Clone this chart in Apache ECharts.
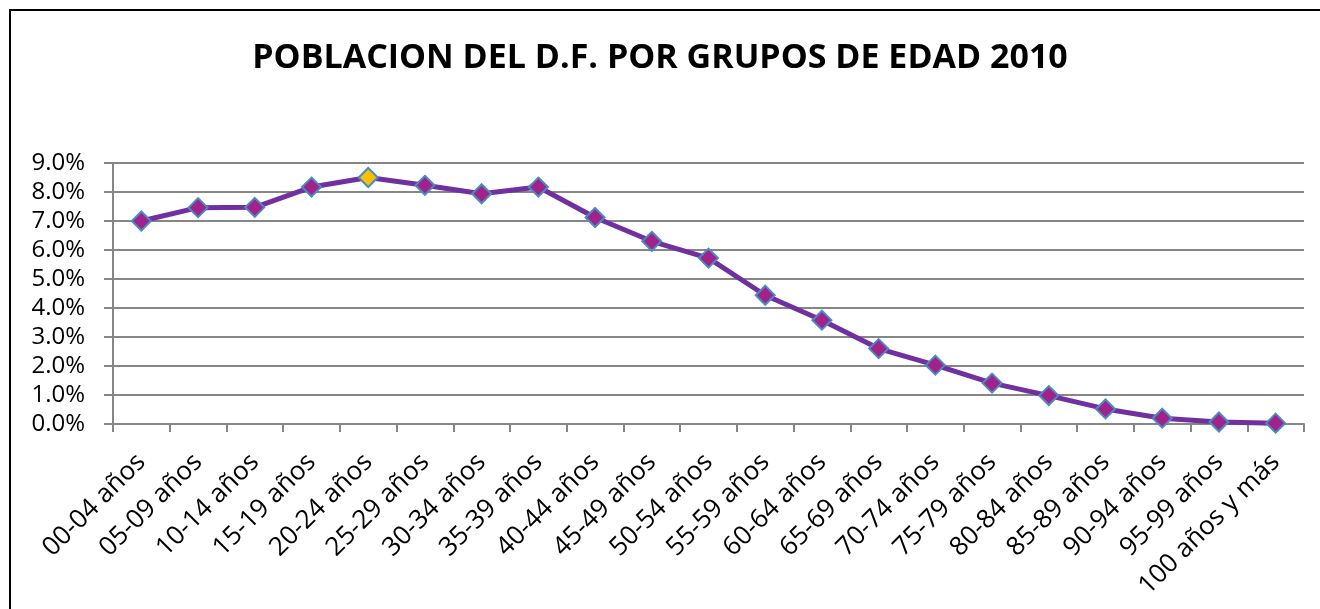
<!DOCTYPE html>
<html>
<head>
<meta charset="utf-8">
<script src="https://cdn.jsdelivr.net/npm/echarts@6/dist/echarts.min.js"></script>
<style>
html,body{margin:0;padding:0;background:#fff;}
#chart{width:1320px;height:609px;}
</style>
</head>
<body>
<div id="chart"></div>
<script>
const titleText = 'POBLACION DEL D.F. POR GRUPOS DE EDAD 2010';
const categories = ['00-04 años','05-09 años','10-14 años','15-19 años','20-24 años','25-29 años','30-34 años','35-39 años','40-44 años','45-49 años','50-54 años','55-59 años','60-64 años','65-69 años','70-74 años','75-79 años','80-84 años','85-89 años','90-94 años','95-99 años','100 años y más'];
const values = [7.00, 7.46, 7.47, 8.17, 8.50, 8.23, 7.94, 8.17, 7.12, 6.30, 5.72, 4.44, 3.58, 2.60, 2.03, 1.41, 0.98, 0.52, 0.20, 0.07, 0.03];
const highlightIndex = 4;

const chart = echarts.init(document.getElementById('chart'), null, {renderer:'canvas'});
const dataItems = values.map((v, i) => i === highlightIndex
  ? {value: v, itemStyle: {color: '#FFC000'}}
  : v);

chart.setOption({
  animation: false,
  backgroundColor: '#fff',
  graphic: [{
    type: 'rect',
    shape: {x: 10, y: 10, width: 1400, height: 700},
    style: {fill: 'none', stroke: '#000', lineWidth: 2},
    silent: true
  }],
  title: {
    text: titleText,
    left: 'center',
    top: 36,
    textStyle: {fontFamily: 'Open Sans', fontWeight: 'bold', fontSize: 34, color: '#000'}
  },
  grid: {left: 113, right: 16, top: 163, bottom: 185, containLabel: false},
  xAxis: {
    type: 'category',
    data: categories,
    boundaryGap: true,
    axisLine: {show: true, lineStyle: {color: '#868686', width: 2}},
    axisTick: {show: true, length: 8, lineStyle: {color: '#868686', width: 2}},
    axisLabel: {rotate: 45, margin: 34, interval: 0, fontFamily: 'Open Sans', fontSize: 26, color: '#000'},
    splitLine: {show: false}
  },
  yAxis: {
    type: 'value',
    min: 0, max: 9, interval: 1,
    axisLine: {show: true, lineStyle: {color: '#868686', width: 2}},
    axisTick: {show: true, length: 9, lineStyle: {color: '#868686', width: 2}},
    axisLabel: {margin: 28, fontFamily: 'Open Sans', fontSize: 24, color: '#000',
      formatter: v => v.toFixed(1) + '%'},
    splitLine: {show: true, lineStyle: {color: '#868686', width: 2}}
  },
  series: [{
    type: 'line',
    data: dataItems,
    symbol: 'diamond',
    symbolSize: 19,
    lineStyle: {color: '#7030A0', width: 5},
    itemStyle: {color: '#A0228A', borderColor: '#4A8BC4', borderWidth: 2},
    emphasis: {disabled: true}
  }]
});
</script>
</body>
</html>
